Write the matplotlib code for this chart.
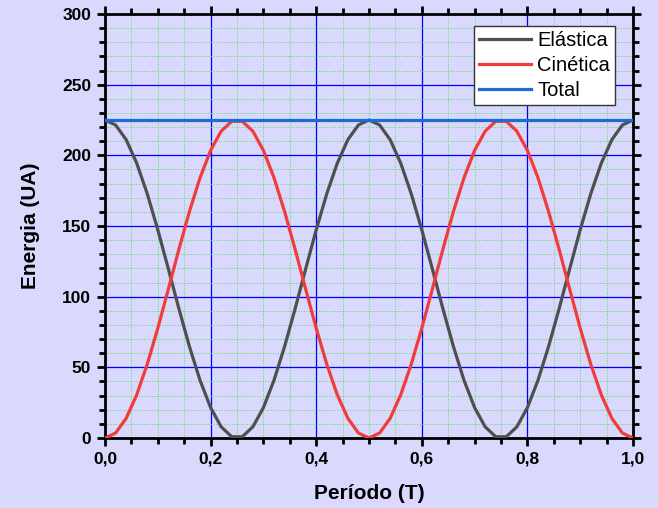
import matplotlib
matplotlib.use("Agg")
from matplotlib import pyplot as plt
from matplotlib.ticker import MultipleLocator, FuncFormatter

plt.rcParams['font.family'] = ['Liberation Sans', 'DejaVu Sans']

# Period fraction (T)
periodo = [0.00, 0.02, 0.04, 0.06, 0.08, 0.10, 0.12, 0.14, 0.16, 0.18,
           0.20, 0.22, 0.24, 0.26, 0.28, 0.30, 0.32, 0.34, 0.36, 0.38,
           0.40, 0.42, 0.44, 0.46, 0.48, 0.50, 0.52, 0.54, 0.56, 0.58,
           0.60, 0.62, 0.64, 0.66, 0.68, 0.70, 0.72, 0.74, 0.76, 0.78,
           0.80, 0.82, 0.84, 0.86, 0.88, 0.90, 0.92, 0.94, 0.96, 0.98, 1.00]

elastica = [225.0, 221.5, 211.1, 194.5, 172.8, 147.3, 119.6, 91.4, 64.6, 40.8,
            21.5, 7.9, 0.9, 0.9, 7.9, 21.5, 40.8, 64.6, 91.4, 119.6,
            147.3, 172.8, 194.5, 211.1, 221.5, 225.0, 221.5, 211.1, 194.5, 172.8,
            147.3, 119.6, 91.4, 64.6, 40.8, 21.5, 7.9, 0.9, 0.9, 7.9,
            21.5, 40.8, 64.6, 91.4, 119.6, 147.3, 172.8, 194.5, 211.1, 221.5, 225.0]

cinetica = [0.0, 3.5, 13.9, 30.5, 52.2, 77.7, 105.4, 133.6, 160.4, 184.2,
            203.5, 217.1, 224.1, 224.1, 217.1, 203.5, 184.2, 160.4, 133.6, 105.4,
            77.7, 52.2, 30.5, 13.9, 3.5, 0.0, 3.5, 13.9, 30.5, 52.2,
            77.7, 105.4, 133.6, 160.4, 184.2, 203.5, 217.1, 224.1, 224.1, 217.1,
            203.5, 184.2, 160.4, 133.6, 105.4, 77.7, 52.2, 30.5, 13.9, 3.5, 0.0]

total = [225.0] * len(periodo)

BG = '#d9d9fd'

fig = plt.figure(figsize=(6.58, 5.08), dpi=100, facecolor=BG)
ax = fig.add_axes([0.1596, 0.1378, 0.8024, 0.8346])
ax.set_facecolor(BG)

ax.plot(periodo, elastica, color='#4f4f4f', lw=2.3, label='Elástica', zorder=3)
ax.plot(periodo, cinetica, color='#f03c3c', lw=2.3, label='Cinética', zorder=3)
ax.plot(periodo, total, color='#1c6cd8', lw=2.3, label='Total', zorder=3)

ax.set_xlim(0, 1.0)
ax.set_ylim(0, 300)
ax.xaxis.set_major_locator(MultipleLocator(0.2))
ax.xaxis.set_minor_locator(MultipleLocator(0.05))
ax.yaxis.set_major_locator(MultipleLocator(50))
ax.yaxis.set_minor_locator(MultipleLocator(10))
ax.xaxis.set_major_formatter(FuncFormatter(lambda v, p: f"{v:.1f}".replace('.', ',')))

ax.grid(which='major', color='#0000ff', lw=0.9, zorder=1)
ax.grid(which='minor', color='#55dd55', lw=0.7, ls=':', zorder=1)
ax.set_axisbelow(True)

for s in ax.spines.values():
    s.set_linewidth(2)
ax.tick_params(which='both', direction='out', top=True, right=True, width=2)
ax.tick_params(which='major', length=6, labelsize=12.5, pad=4)
ax.tick_params(which='minor', length=4)
for lbl in ax.get_xticklabels() + ax.get_yticklabels():
    lbl.set_fontweight('bold')

ax.set_xlabel('Período (T)', fontsize=15, fontweight='bold', labelpad=12)
ax.set_ylabel('Energia (UA)', fontsize=15, fontweight='bold', labelpad=16)

leg = ax.legend(loc='upper right', fontsize=14.5, frameon=True, fancybox=False,
                edgecolor='#333333', framealpha=1, handlelength=2.6,
                handletextpad=0.3, borderpad=0.25, labelspacing=0.3,
                bbox_to_anchor=(0.985, 0.995))
leg.get_frame().set_linewidth(1)

fig.savefig('out.png', dpi=100, facecolor=BG)
